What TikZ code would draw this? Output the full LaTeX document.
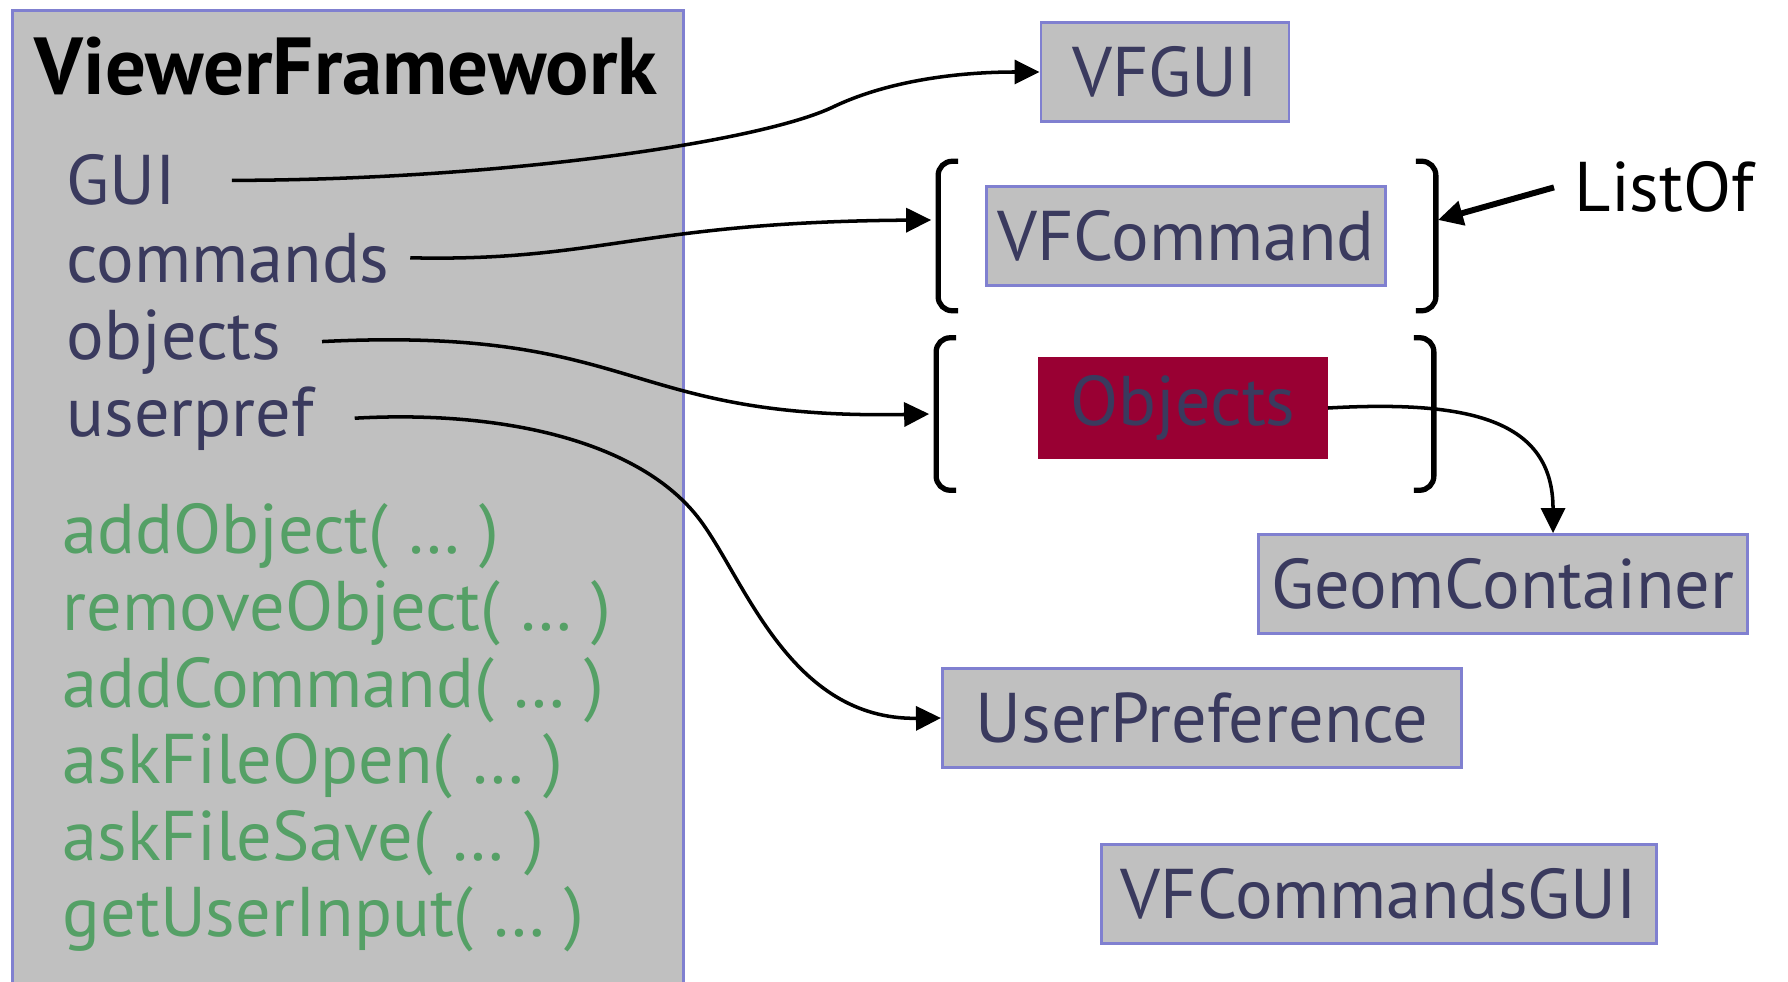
\documentclass[tikz,border=0pt]{standalone}
\usepackage{fontspec}
\setmainfont{PT Sans}
\usepackage{xcolor}
\usetikzlibrary{arrows.meta, positioning, calc}
\definecolor{vfgray}{RGB}{192,192,192}
\definecolor{vfborder}{RGB}{128,128,208}
\definecolor{vfink}{RGB}{58,58,94}
\definecolor{vfgreen}{RGB}{85,160,102}
\definecolor{vfred}{RGB}{153,0,51}
\tikzset{
    frame/.style={rectangle, draw=vfborder, fill=vfgray, line width=0.8pt, anchor=north west, minimum width=6.71cm, minimum height=9.9cm},
    cls/.style={rectangle, draw=vfborder, fill=vfgray, line width=0.8pt, text=vfink, minimum height=0.99cm, inner sep=0pt, font=\fontsize{20}{24}\selectfont},
    member/.style={anchor=base west, inner sep=0pt, text=vfink, font=\fontsize{20}{24}\selectfont},
    method/.style={anchor=base west, inner sep=0pt, text=vfgreen, font=\fontsize{20}{24}\selectfont},
    listbox/.style={rectangle, inner sep=0pt, minimum width=4.96cm},
    bracket/.style={line width=1.5pt, rounded corners=4pt},
    arrow/.style={-{Triangle[length=2.5mm, width=2.4mm]}, line width=1pt},
}

\begin{document}
\begin{tikzpicture}[x=0.01cm, y=-0.01cm]
    \useasboundingbox (0,0) rectangle (1788,982);
    % the framework object and its members
    \node[frame] (vf) at (11,9) {};
    \node[anchor=base west, inner sep=0pt, font=\fontsize{23}{28}\selectfont\bfseries] (title) at (34,95) {ViewerFramework};
    \node[member] (gui) at (66,205) {GUI};
    \node[member] (cmds) at (66,282) {commands};
    \node[member] (objs) at (66,359) {objects};
    \node[member] (upref) at (66,436) {userpref};
    \node[method] (m1) at (62,553) {addObject( … )};
    \node[method] (m2) at (62,630) {removeObject( … )};
    \node[method] (m3) at (62,707) {addCommand( … )};
    \node[method] (m4) at (62,783) {askFileOpen( … )};
    \node[method] (m5) at (62,860) {askFileSave( … )};
    \node[method] (m6) at (62,936) {getUserInput( … )};

    % classes on the right
    \node[cls, minimum width=2.48cm] (vfgui) at (1165,72) {VFGUI};
    \node[cls, minimum width=3.98cm] (vfcmd) at (1186,236) {VFCommand};
    \node[cls, minimum width=2.87cm, draw=vfred, fill=vfred] (objects) at (1183,408) {Objects};
    \node[cls, minimum width=4.89cm] (geom) at (1503,584) {GeomContainer};
    \node[cls, minimum width=5.19cm] (userpref) at (1202,718) {UserPreference};
    \node[cls, minimum width=5.54cm] (cmdgui) at (1379,894) {VFCommandsGUI};

    % list brackets
    \node[listbox, minimum height=1.48cm] (cmdlist) at (1187,236) {};
    \node[listbox, minimum height=1.51cm] (objlist) at (1185,414) {};
    \draw[bracket] ([xshift=0.2cm]cmdlist.north west) -| (cmdlist.south west) -- ++(20,0);
    \draw[bracket] ([xshift=-0.2cm]cmdlist.north east) -| (cmdlist.south east) -- ++(-20,0);
    \draw[bracket] ([xshift=0.2cm]objlist.north west) -| (objlist.south west) -- ++(20,0);
    \draw[bracket] ([xshift=-0.2cm]objlist.north east) -| (objlist.south east) -- ++(-20,0);
    \node[anchor=base west, inner sep=0pt, font=\fontsize{20}{24}\selectfont] (listof) at (1574,212) {ListOf};

    % connectors
    \draw[arrow] ([xshift=0.55cm]gui.east) .. controls (500,180) and (760,142) .. (833,107)
        .. controls (883,83) and (950,72) .. (vfgui.west);
    \draw[arrow] ([xshift=0.2cm]cmds.east) .. controls (600,262) and (640,222) .. ([yshift=0.16cm,xshift=-0.07cm]cmdlist.west);
    \draw[arrow] ([xshift=0.4cm]objs.east) .. controls (640,326) and (620,420) .. ([xshift=-0.07cm]objlist.west);
    \draw[arrow] ([xshift=0.4cm]upref.east) .. controls (500,410) and (640,440) .. (700,520)
        .. controls (745,580) and (790,720) .. (userpref.west);
    \draw[arrow] (objects.east) .. controls (1470,400) and (1553,420) .. ([xshift=0.5cm]geom.north);
    \draw[arrow, line width=1.7pt] ([xshift=-0.2cm]listof.west) -- ([yshift=0.16cm,xshift=0.02cm]cmdlist.east);
\end{tikzpicture}
\end{document}
